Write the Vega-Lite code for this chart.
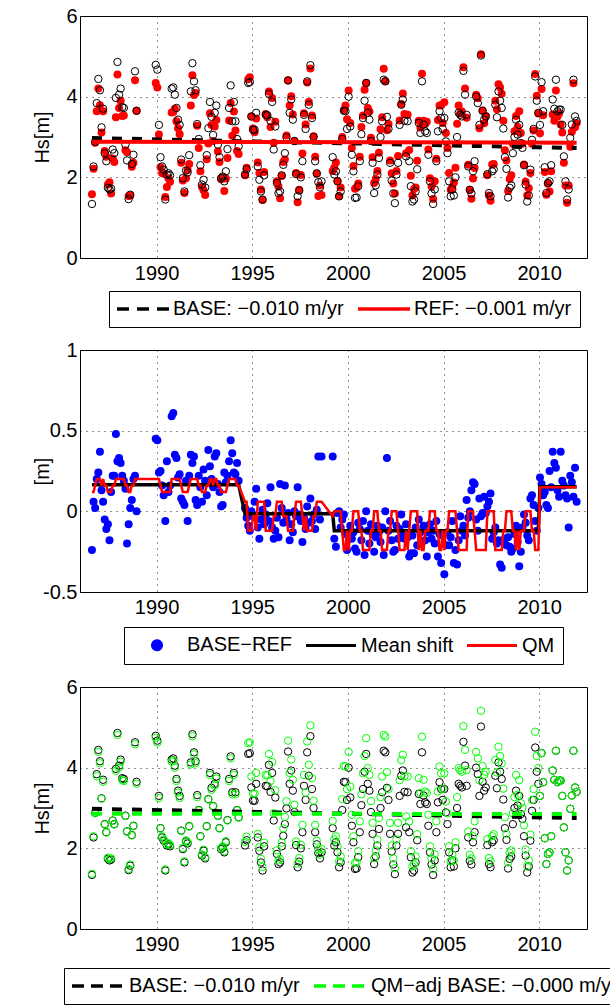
{
"$schema": "https://vega.github.io/schema/vega-lite/v6.json",
"padding": {"left": 31, "top": 5, "right": 0, "bottom": 0},
"background": "white",
"spacing": 11,
"resolve": {"scale": {"color": "independent", "x": "independent", "y": "independent"}, "legend": {"color": "independent"}},
"config": {
  "font": "Liberation Sans",
  "view": {"stroke": "black", "strokeWidth": 1},
  "axis": {"labelFont": "Liberation Sans", "labelFontSize": 20, "labelColor": "black", "titleFont": "Liberation Sans", "titleFontSize": 20, "titleFontWeight": "normal", "titleColor": "black", "ticks": false, "tickSize": 0, "domain": false, "grid": true, "gridColor": "black", "gridDash": [1, 5], "gridWidth": 1, "gridOpacity": 0.85, "labelFlush": false},
  "axisX": {"labelPadding": 5},
  "axisY": {"labelPadding": 3, "minExtent": 24, "maxExtent": 24, "titlePadding": 4},
  "legend": {"orient": "none", "direction": "horizontal", "labelFont": "Liberation Sans", "labelFontSize": 20, "labelColor": "black", "strokeColor": "black", "fillColor": "white", "padding": 8, "symbolSize": 81, "symbolStrokeWidth": 3, "columnPadding": 6, "labelLimit": 400, "cornerRadius": 0, "title": null}
},
"datasets": {
"m": [
{"t":1986.625,"b":1.34,"r":1.58,"d":-0.24,"q":0.12,"a":1.37},
{"t":1986.708,"b":2.27,"r":2.21,"d":0.06,"q":0.12,"a":2.30},
{"t":1986.792,"b":2.88,"r":2.86,"d":0.02,"q":0.16,"a":2.87},
{"t":1986.875,"b":3.84,"r":3.64,"d":0.20,"q":0.20,"a":3.79},
{"t":1986.958,"b":4.44,"r":4.20,"d":0.24,"q":0.20,"a":4.39},
{"t":1987.042,"b":4.16,"r":3.79,"d":0.37,"q":0.20,"a":4.11},
{"t":1987.125,"b":3.24,"r":3.11,"d":0.13,"q":0.16,"a":3.23},
{"t":1987.208,"b":3.70,"r":3.64,"d":0.06,"q":0.20,"a":3.65},
{"t":1987.292,"b":2.60,"r":2.65,"d":-0.05,"q":0.16,"a":2.59},
{"t":1987.375,"b":2.40,"r":2.51,"d":-0.11,"q":0.16,"a":2.39},
{"t":1987.458,"b":1.74,"r":1.82,"d":-0.08,"q":0.12,"a":1.77},
{"t":1987.542,"b":1.70,"r":1.88,"d":-0.18,"q":0.12,"a":1.73},
{"t":1987.625,"b":1.72,"r":1.60,"d":0.12,"q":0.12,"a":1.75},
{"t":1987.708,"b":2.69,"r":2.47,"d":0.22,"q":0.16,"a":2.68},
{"t":1987.792,"b":2.60,"r":2.38,"d":0.22,"q":0.16,"a":2.59},
{"t":1987.875,"b":3.97,"r":3.49,"d":0.48,"q":0.20,"a":3.92},
{"t":1987.958,"b":4.86,"r":4.55,"d":0.31,"q":0.20,"a":4.81},
{"t":1988.042,"b":4.05,"r":3.72,"d":0.33,"q":0.20,"a":4.00},
{"t":1988.125,"b":4.20,"r":3.90,"d":0.30,"q":0.20,"a":4.15},
{"t":1988.208,"b":3.74,"r":3.52,"d":0.22,"q":0.20,"a":3.69},
{"t":1988.292,"b":3.72,"r":3.53,"d":0.19,"q":0.20,"a":3.67},
{"t":1988.375,"b":2.81,"r":2.67,"d":0.14,"q":0.16,"a":2.80},
{"t":1988.458,"b":2.42,"r":2.62,"d":-0.20,"q":0.16,"a":2.41},
{"t":1988.542,"b":1.46,"r":1.54,"d":-0.08,"q":0.12,"a":1.49},
{"t":1988.625,"b":1.57,"r":1.55,"d":0.02,"q":0.12,"a":1.60},
{"t":1988.708,"b":2.33,"r":2.26,"d":0.07,"q":0.16,"a":2.32},
{"t":1988.792,"b":2.56,"r":2.36,"d":0.20,"q":0.16,"a":2.55},
{"t":1988.875,"b":4.63,"r":4.41,"d":0.22,"q":0.20,"a":4.58},
{"t":1988.958,"b":3.65,"r":3.65,"d":0.00,"q":0.20,"a":3.60},
{"t":1989.958,"b":4.79,"r":4.34,"d":0.45,"q":0.20,"a":4.74},
{"t":1990.042,"b":4.67,"r":4.23,"d":0.44,"q":0.20,"a":4.62},
{"t":1990.125,"b":3.30,"r":3.06,"d":0.24,"q":0.20,"a":3.25},
{"t":1990.208,"b":2.50,"r":2.25,"d":0.25,"q":0.16,"a":2.49},
{"t":1990.292,"b":2.27,"r":2.11,"d":0.16,"q":0.12,"a":2.30},
{"t":1990.375,"b":2.19,"r":2.09,"d":0.10,"q":0.12,"a":2.22},
{"t":1990.458,"b":1.45,"r":1.51,"d":-0.06,"q":0.12,"a":1.48},
{"t":1990.542,"b":2.07,"r":1.76,"d":0.31,"q":0.12,"a":2.10},
{"t":1990.625,"b":2.10,"r":1.98,"d":0.12,"q":0.12,"a":2.13},
{"t":1990.708,"b":2.05,"r":1.89,"d":0.16,"q":0.12,"a":2.08},
{"t":1990.792,"b":4.20,"r":3.61,"d":0.59,"q":0.20,"a":4.15},
{"t":1990.875,"b":4.23,"r":3.62,"d":0.61,"q":0.20,"a":4.18},
{"t":1990.958,"b":4.05,"r":3.70,"d":0.35,"q":0.20,"a":4.00},
{"t":1991.042,"b":3.72,"r":3.39,"d":0.33,"q":0.20,"a":3.67},
{"t":1991.125,"b":3.43,"r":3.22,"d":0.21,"q":0.20,"a":3.38},
{"t":1991.208,"b":3.30,"r":3.07,"d":0.23,"q":0.20,"a":3.25},
{"t":1991.292,"b":2.44,"r":2.36,"d":0.08,"q":0.16,"a":2.43},
{"t":1991.375,"b":1.98,"r":1.92,"d":0.06,"q":0.12,"a":2.01},
{"t":1991.458,"b":1.65,"r":1.61,"d":0.04,"q":0.12,"a":1.68},
{"t":1991.542,"b":2.17,"r":1.98,"d":0.19,"q":0.12,"a":2.20},
{"t":1991.625,"b":2.12,"r":2.18,"d":-0.06,"q":0.12,"a":2.15},
{"t":1991.708,"b":2.55,"r":2.33,"d":0.22,"q":0.16,"a":2.54},
{"t":1991.792,"b":4.13,"r":3.78,"d":0.35,"q":0.20,"a":4.08},
{"t":1991.875,"b":4.83,"r":4.53,"d":0.30,"q":0.20,"a":4.78},
{"t":1991.958,"b":4.38,"r":4.04,"d":0.34,"q":0.20,"a":4.33},
{"t":1992.042,"b":4.16,"r":4.09,"d":0.07,"q":0.20,"a":4.11},
{"t":1992.125,"b":3.32,"r":3.28,"d":0.04,"q":0.20,"a":3.27},
{"t":1992.208,"b":2.95,"r":2.73,"d":0.22,"q":0.16,"a":2.94},
{"t":1992.292,"b":2.30,"r":2.15,"d":0.15,"q":0.16,"a":2.29},
{"t":1992.375,"b":1.82,"r":1.76,"d":0.06,"q":0.12,"a":1.85},
{"t":1992.458,"b":1.94,"r":1.68,"d":0.26,"q":0.12,"a":1.97},
{"t":1992.542,"b":1.75,"r":1.56,"d":0.19,"q":0.12,"a":1.78},
{"t":1992.625,"b":2.55,"r":2.45,"d":0.10,"q":0.16,"a":2.54},
{"t":1992.708,"b":3.22,"r":2.84,"d":0.38,"q":0.16,"a":3.21},
{"t":1992.792,"b":3.87,"r":3.59,"d":0.28,"q":0.20,"a":3.82},
{"t":1992.875,"b":3.50,"r":3.30,"d":0.20,"q":0.20,"a":3.45},
{"t":1992.958,"b":3.05,"r":2.90,"d":0.15,"q":0.16,"a":3.04},
{"t":1993.042,"b":3.60,"r":3.26,"d":0.34,"q":0.20,"a":3.55},
{"t":1993.125,"b":3.78,"r":3.42,"d":0.36,"q":0.20,"a":3.73},
{"t":1993.208,"b":2.81,"r":2.64,"d":0.17,"q":0.16,"a":2.80},
{"t":1993.292,"b":2.50,"r":2.38,"d":0.12,"q":0.16,"a":2.49},
{"t":1993.375,"b":1.98,"r":1.95,"d":0.03,"q":0.12,"a":2.01},
{"t":1993.458,"b":2.02,"r":1.98,"d":0.04,"q":0.12,"a":2.05},
{"t":1993.542,"b":1.90,"r":1.66,"d":0.24,"q":0.12,"a":1.93},
{"t":1993.625,"b":2.15,"r":1.97,"d":0.18,"q":0.12,"a":2.18},
{"t":1993.708,"b":2.70,"r":2.48,"d":0.22,"q":0.16,"a":2.69},
{"t":1993.792,"b":3.72,"r":3.41,"d":0.31,"q":0.20,"a":3.67},
{"t":1993.875,"b":4.28,"r":3.84,"d":0.44,"q":0.20,"a":4.23},
{"t":1993.958,"b":3.39,"r":3.03,"d":0.36,"q":0.20,"a":3.34},
{"t":1994.042,"b":3.87,"r":3.63,"d":0.24,"q":0.20,"a":3.82},
{"t":1994.125,"b":3.39,"r":3.16,"d":0.23,"q":0.20,"a":3.34},
{"t":1994.208,"b":2.95,"r":2.65,"d":0.30,"q":0.16,"a":2.94},
{"t":1994.292,"b":2.77,"r":2.58,"d":0.19,"q":0.16,"a":2.76},
{"t":1994.625,"b":2.07,"r":2.05,"d":0.02,"q":0.06,"a":2.16},
{"t":1994.708,"b":2.20,"r":2.24,"d":-0.04,"q":0.06,"a":2.29},
{"t":1994.792,"b":4.34,"r":4.43,"d":-0.09,"q":-0.12,"a":4.61},
{"t":1994.875,"b":4.36,"r":4.48,"d":-0.12,"q":-0.12,"a":4.63},
{"t":1994.958,"b":3.51,"r":3.51,"d":0.00,"q":-0.12,"a":3.78},
{"t":1995.042,"b":3.18,"r":3.21,"d":-0.03,"q":-0.03,"a":3.36},
{"t":1995.125,"b":3.18,"r":3.12,"d":0.06,"q":-0.03,"a":3.36},
{"t":1995.208,"b":3.60,"r":3.46,"d":0.14,"q":-0.12,"a":3.87},
{"t":1995.292,"b":2.27,"r":2.37,"d":-0.10,"q":0.06,"a":2.36},
{"t":1995.375,"b":1.94,"r":2.11,"d":-0.17,"q":0.06,"a":2.03},
{"t":1995.458,"b":1.65,"r":1.70,"d":-0.05,"q":0.06,"a":1.74},
{"t":1995.542,"b":1.45,"r":1.44,"d":0.01,"q":0.06,"a":1.54},
{"t":1995.625,"b":2.05,"r":2.13,"d":-0.08,"q":0.06,"a":2.14},
{"t":1995.708,"b":3.55,"r":3.57,"d":-0.02,"q":-0.12,"a":3.82},
{"t":1995.792,"b":3.54,"r":3.49,"d":0.05,"q":-0.12,"a":3.81},
{"t":1995.875,"b":4.07,"r":4.13,"d":-0.06,"q":-0.12,"a":4.34},
{"t":1995.958,"b":3.40,"r":3.25,"d":0.15,"q":-0.12,"a":3.67},
{"t":1996.042,"b":3.87,"r":3.97,"d":-0.10,"q":-0.12,"a":4.14},
{"t":1996.125,"b":2.69,"r":2.86,"d":-0.17,"q":-0.03,"a":2.87},
{"t":1996.208,"b":3.26,"r":3.38,"d":-0.12,"q":-0.03,"a":3.44},
{"t":1996.292,"b":1.86,"r":1.90,"d":-0.04,"q":0.06,"a":1.95},
{"t":1996.375,"b":1.61,"r":1.77,"d":-0.16,"q":0.06,"a":1.70},
{"t":1996.458,"b":1.65,"r":1.48,"d":0.17,"q":0.06,"a":1.74},
{"t":1996.542,"b":2.05,"r":2.03,"d":0.02,"q":0.06,"a":2.14},
{"t":1996.625,"b":2.31,"r":2.38,"d":-0.07,"q":-0.03,"a":2.49},
{"t":1996.708,"b":2.60,"r":2.44,"d":0.16,"q":-0.03,"a":2.78},
{"t":1996.792,"b":2.99,"r":3.04,"d":-0.05,"q":-0.03,"a":3.17},
{"t":1996.875,"b":4.40,"r":4.41,"d":-0.01,"q":-0.12,"a":4.67},
{"t":1996.958,"b":3.60,"r":3.78,"d":-0.18,"q":-0.12,"a":3.87},
{"t":1997.042,"b":3.93,"r":4.01,"d":-0.08,"q":-0.12,"a":4.20},
{"t":1997.125,"b":3.43,"r":3.56,"d":-0.13,"q":-0.12,"a":3.70},
{"t":1997.208,"b":2.90,"r":2.90,"d":0.00,"q":-0.03,"a":3.08},
{"t":1997.292,"b":2.08,"r":2.11,"d":-0.03,"q":0.06,"a":2.17},
{"t":1997.375,"b":1.53,"r":1.38,"d":0.15,"q":0.06,"a":1.62},
{"t":1997.458,"b":1.67,"r":1.69,"d":-0.02,"q":0.06,"a":1.76},
{"t":1997.542,"b":2.00,"r":2.06,"d":-0.06,"q":0.06,"a":2.09},
{"t":1997.625,"b":2.40,"r":2.59,"d":-0.19,"q":-0.03,"a":2.58},
{"t":1997.708,"b":3.55,"r":3.59,"d":-0.04,"q":-0.12,"a":3.82},
{"t":1997.792,"b":3.20,"r":3.31,"d":-0.11,"q":-0.03,"a":3.38},
{"t":1997.875,"b":4.38,"r":4.35,"d":0.03,"q":-0.12,"a":4.65},
{"t":1997.958,"b":3.80,"r":3.87,"d":-0.07,"q":-0.12,"a":4.07},
{"t":1998.042,"b":4.78,"r":4.70,"d":0.08,"q":-0.12,"a":5.05},
{"t":1998.125,"b":3.47,"r":3.53,"d":-0.06,"q":-0.12,"a":3.74},
{"t":1998.208,"b":3.00,"r":3.02,"d":-0.02,"q":-0.03,"a":3.18},
{"t":1998.292,"b":2.40,"r":2.51,"d":-0.11,"q":-0.03,"a":2.58},
{"t":1998.375,"b":2.10,"r":2.09,"d":0.01,"q":0.06,"a":2.19},
{"t":1998.458,"b":1.88,"r":1.54,"d":0.34,"q":0.06,"a":1.97},
{"t":1998.542,"b":1.75,"r":1.80,"d":-0.05,"q":0.06,"a":1.84},
{"t":1998.625,"b":1.90,"r":1.56,"d":0.34,"q":0.06,"a":1.99},
{"t":1999.208,"b":2.50,"r":2.16,"d":0.34,"q":-0.03,"a":2.68},
{"t":1999.292,"b":2.07,"r":2.24,"d":-0.17,"q":0.00,"a":2.22},
{"t":1999.375,"b":2.15,"r":2.37,"d":-0.22,"q":0.00,"a":2.30},
{"t":1999.458,"b":1.90,"r":1.91,"d":-0.01,"q":0.00,"a":2.05},
{"t":1999.542,"b":1.53,"r":1.53,"d":0.00,"q":0.00,"a":1.68},
{"t":1999.625,"b":1.65,"r":1.75,"d":-0.10,"q":0.00,"a":1.80},
{"t":1999.708,"b":2.95,"r":3.00,"d":-0.05,"q":-0.12,"a":3.22},
{"t":1999.792,"b":3.65,"r":3.67,"d":-0.02,"q":-0.24,"a":4.04},
{"t":1999.875,"b":3.64,"r":3.78,"d":-0.14,"q":-0.24,"a":4.03},
{"t":1999.958,"b":3.20,"r":3.44,"d":-0.24,"q":-0.12,"a":3.47},
{"t":2000.042,"b":4.00,"r":4.15,"d":-0.15,"q":-0.24,"a":4.39},
{"t":2000.125,"b":3.26,"r":3.35,"d":-0.09,"q":-0.12,"a":3.53},
{"t":2000.208,"b":2.56,"r":2.73,"d":-0.17,"q":-0.12,"a":2.83},
{"t":2000.292,"b":2.15,"r":2.28,"d":-0.13,"q":0.00,"a":2.30},
{"t":2000.375,"b":1.49,"r":1.72,"d":-0.23,"q":0.00,"a":1.64},
{"t":2000.458,"b":1.50,"r":1.75,"d":-0.25,"q":0.00,"a":1.65},
{"t":2000.542,"b":1.78,"r":1.85,"d":-0.07,"q":0.00,"a":1.93},
{"t":2000.625,"b":2.40,"r":2.51,"d":-0.11,"q":-0.12,"a":2.67},
{"t":2000.708,"b":3.07,"r":3.25,"d":-0.18,"q":-0.12,"a":3.34},
{"t":2000.792,"b":3.47,"r":3.53,"d":-0.06,"q":-0.24,"a":3.86},
{"t":2000.875,"b":3.90,"r":4.17,"d":-0.27,"q":-0.24,"a":4.29},
{"t":2000.958,"b":4.34,"r":4.34,"d":0.00,"q":-0.24,"a":4.73},
{"t":2001.042,"b":3.60,"r":3.72,"d":-0.12,"q":-0.24,"a":3.99},
{"t":2001.125,"b":3.43,"r":3.63,"d":-0.20,"q":-0.24,"a":3.82},
{"t":2001.208,"b":2.90,"r":2.98,"d":-0.08,"q":-0.12,"a":3.17},
{"t":2001.292,"b":2.36,"r":2.50,"d":-0.14,"q":-0.12,"a":2.63},
{"t":2001.375,"b":1.61,"r":1.86,"d":-0.25,"q":0.00,"a":1.76},
{"t":2001.458,"b":1.80,"r":1.96,"d":-0.16,"q":0.00,"a":1.95},
{"t":2001.542,"b":2.07,"r":2.16,"d":-0.09,"q":0.00,"a":2.22},
{"t":2001.625,"b":2.48,"r":2.61,"d":-0.13,"q":-0.12,"a":2.75},
{"t":2001.708,"b":3.00,"r":3.19,"d":-0.19,"q":-0.12,"a":3.27},
{"t":2001.792,"b":3.39,"r":3.49,"d":-0.10,"q":-0.24,"a":3.78},
{"t":2001.875,"b":4.42,"r":4.69,"d":-0.27,"q":-0.24,"a":4.81},
{"t":2001.958,"b":4.38,"r":4.38,"d":0.00,"q":-0.24,"a":4.77},
{"t":2002.042,"b":3.50,"r":3.17,"d":0.33,"q":-0.24,"a":3.89},
{"t":2002.125,"b":3.20,"r":3.32,"d":-0.12,"q":-0.12,"a":3.47},
{"t":2002.208,"b":2.36,"r":2.42,"d":-0.06,"q":-0.12,"a":2.63},
{"t":2002.292,"b":1.92,"r":2.10,"d":-0.18,"q":0.00,"a":2.07},
{"t":2002.375,"b":1.60,"r":1.85,"d":-0.25,"q":0.00,"a":1.75},
{"t":2002.458,"b":1.36,"r":1.60,"d":-0.24,"q":0.00,"a":1.51},
{"t":2002.542,"b":2.07,"r":2.16,"d":-0.09,"q":0.00,"a":2.22},
{"t":2002.625,"b":2.36,"r":2.53,"d":-0.17,"q":-0.12,"a":2.63},
{"t":2002.708,"b":3.30,"r":3.41,"d":-0.11,"q":-0.24,"a":3.69},
{"t":2002.792,"b":3.80,"r":3.82,"d":-0.02,"q":-0.24,"a":4.19},
{"t":2002.875,"b":3.93,"r":4.08,"d":-0.15,"q":-0.24,"a":4.32},
{"t":2002.958,"b":3.40,"r":3.57,"d":-0.17,"q":-0.24,"a":3.79},
{"t":2003.042,"b":2.52,"r":2.60,"d":-0.08,"q":-0.12,"a":2.79},
{"t":2003.125,"b":3.39,"r":3.55,"d":-0.16,"q":-0.24,"a":3.78},
{"t":2003.208,"b":2.40,"r":2.68,"d":-0.28,"q":-0.12,"a":2.67},
{"t":2003.292,"b":1.78,"r":2.04,"d":-0.26,"q":0.00,"a":1.93},
{"t":2003.375,"b":1.40,"r":1.55,"d":-0.15,"q":0.00,"a":1.55},
{"t":2003.458,"b":1.45,"r":1.71,"d":-0.26,"q":0.00,"a":1.60},
{"t":2003.542,"b":1.65,"r":1.75,"d":-0.10,"q":0.00,"a":1.80},
{"t":2003.625,"b":2.20,"r":2.41,"d":-0.21,"q":0.00,"a":2.35},
{"t":2003.708,"b":3.35,"r":3.40,"d":-0.05,"q":-0.24,"a":3.74},
{"t":2003.792,"b":3.10,"r":3.23,"d":-0.13,"q":-0.12,"a":3.37},
{"t":2003.875,"b":4.38,"r":4.57,"d":-0.19,"q":-0.24,"a":4.77},
{"t":2003.958,"b":3.31,"r":3.40,"d":-0.09,"q":-0.24,"a":3.70},
{"t":2004.042,"b":3.14,"r":3.32,"d":-0.18,"q":-0.12,"a":3.41},
{"t":2004.125,"b":3.10,"r":3.38,"d":-0.28,"q":-0.12,"a":3.37},
{"t":2004.208,"b":2.56,"r":2.69,"d":-0.13,"q":-0.12,"a":2.83},
{"t":2004.292,"b":1.90,"r":1.98,"d":-0.08,"q":0.00,"a":2.05},
{"t":2004.375,"b":1.60,"r":1.77,"d":-0.17,"q":0.00,"a":1.75},
{"t":2004.458,"b":1.34,"r":1.46,"d":-0.12,"q":0.00,"a":1.49},
{"t":2004.542,"b":1.70,"r":1.90,"d":-0.20,"q":0.00,"a":1.85},
{"t":2004.625,"b":2.40,"r":2.46,"d":-0.06,"q":-0.12,"a":2.67},
{"t":2004.708,"b":3.14,"r":3.42,"d":-0.28,"q":-0.12,"a":3.41},
{"t":2004.792,"b":3.64,"r":3.78,"d":-0.14,"q":-0.24,"a":4.03},
{"t":2004.875,"b":3.47,"r":3.79,"d":-0.32,"q":-0.24,"a":3.86},
{"t":2004.958,"b":3.20,"r":3.35,"d":-0.15,"q":-0.12,"a":3.47},
{"t":2005.042,"b":3.47,"r":3.86,"d":-0.39,"q":-0.24,"a":3.86},
{"t":2005.125,"b":2.89,"r":3.10,"d":-0.21,"q":-0.12,"a":3.16},
{"t":2005.208,"b":2.60,"r":2.73,"d":-0.13,"q":-0.12,"a":2.87},
{"t":2005.292,"b":1.90,"r":2.11,"d":-0.21,"q":0.00,"a":2.05},
{"t":2005.375,"b":1.53,"r":1.69,"d":-0.16,"q":0.00,"a":1.68},
{"t":2005.458,"b":1.70,"r":1.76,"d":-0.06,"q":0.00,"a":1.85},
{"t":2005.542,"b":1.55,"r":1.87,"d":-0.32,"q":0.00,"a":1.70},
{"t":2005.625,"b":2.00,"r":2.24,"d":-0.24,"q":0.00,"a":2.15},
{"t":2005.708,"b":3.00,"r":3.33,"d":-0.33,"q":-0.12,"a":3.27},
{"t":2005.792,"b":3.60,"r":3.78,"d":-0.18,"q":-0.24,"a":3.99},
{"t":2005.875,"b":3.55,"r":3.58,"d":-0.03,"q":-0.24,"a":3.94},
{"t":2005.958,"b":3.51,"r":3.63,"d":-0.12,"q":-0.24,"a":3.90},
{"t":2006.042,"b":4.64,"r":4.73,"d":-0.09,"q":-0.24,"a":5.03},
{"t":2006.125,"b":4.05,"r":4.20,"d":-0.15,"q":-0.24,"a":4.44},
{"t":2006.208,"b":3.55,"r":3.48,"d":0.07,"q":-0.24,"a":3.94},
{"t":2006.292,"b":2.27,"r":2.31,"d":-0.04,"q":0.00,"a":2.42},
{"t":2006.375,"b":1.69,"r":1.69,"d":0.00,"q":0.00,"a":1.84},
{"t":2006.458,"b":1.60,"r":1.47,"d":0.13,"q":0.00,"a":1.75},
{"t":2006.542,"b":2.15,"r":1.97,"d":0.18,"q":0.00,"a":2.30},
{"t":2006.625,"b":2.40,"r":2.23,"d":0.17,"q":-0.12,"a":2.67},
{"t":2006.708,"b":4.00,"r":4.05,"d":-0.05,"q":-0.24,"a":4.39},
{"t":2006.792,"b":3.84,"r":3.96,"d":-0.12,"q":-0.24,"a":4.23},
{"t":2006.875,"b":3.30,"r":3.22,"d":0.08,"q":-0.24,"a":3.69},
{"t":2006.958,"b":5.02,"r":5.05,"d":-0.03,"q":-0.24,"a":5.41},
{"t":2007.042,"b":3.65,"r":3.66,"d":-0.01,"q":-0.24,"a":4.04},
{"t":2007.125,"b":3.43,"r":3.34,"d":0.09,"q":-0.24,"a":3.82},
{"t":2007.208,"b":3.51,"r":3.52,"d":-0.01,"q":-0.24,"a":3.90},
{"t":2007.292,"b":2.08,"r":2.05,"d":0.03,"q":0.00,"a":2.23},
{"t":2007.375,"b":1.61,"r":1.55,"d":0.06,"q":0.00,"a":1.76},
{"t":2007.458,"b":1.53,"r":1.42,"d":0.11,"q":0.00,"a":1.68},
{"t":2007.542,"b":2.15,"r":2.32,"d":-0.17,"q":0.00,"a":2.30},
{"t":2007.625,"b":2.20,"r":2.33,"d":-0.13,"q":0.00,"a":2.35},
{"t":2007.708,"b":3.80,"r":3.90,"d":-0.10,"q":-0.24,"a":4.19},
{"t":2007.792,"b":3.49,"r":3.69,"d":-0.20,"q":-0.24,"a":3.88},
{"t":2007.875,"b":4.13,"r":4.31,"d":-0.18,"q":-0.24,"a":4.52},
{"t":2007.958,"b":3.90,"r":4.23,"d":-0.33,"q":-0.24,"a":4.29},
{"t":2008.042,"b":3.72,"r":4.07,"d":-0.35,"q":-0.24,"a":4.11},
{"t":2008.125,"b":3.21,"r":3.40,"d":-0.19,"q":-0.12,"a":3.48},
{"t":2008.208,"b":2.50,"r":2.67,"d":-0.17,"q":-0.12,"a":2.77},
{"t":2008.292,"b":2.21,"r":2.42,"d":-0.21,"q":0.00,"a":2.36},
{"t":2008.375,"b":1.50,"r":1.66,"d":-0.16,"q":0.00,"a":1.65},
{"t":2008.458,"b":1.74,"r":1.96,"d":-0.22,"q":0.00,"a":1.89},
{"t":2008.542,"b":1.80,"r":2.05,"d":-0.25,"q":0.00,"a":1.95},
{"t":2008.625,"b":2.60,"r":2.83,"d":-0.23,"q":-0.12,"a":2.87},
{"t":2008.708,"b":3.00,"r":3.14,"d":-0.14,"q":-0.12,"a":3.27},
{"t":2008.792,"b":3.43,"r":3.52,"d":-0.09,"q":-0.24,"a":3.82},
{"t":2008.875,"b":3.06,"r":3.25,"d":-0.19,"q":-0.12,"a":3.33},
{"t":2008.958,"b":3.30,"r":3.64,"d":-0.34,"q":-0.24,"a":3.69},
{"t":2009.042,"b":2.85,"r":3.10,"d":-0.25,"q":-0.12,"a":3.12},
{"t":2009.125,"b":2.73,"r":2.83,"d":-0.10,"q":-0.12,"a":3.00},
{"t":2009.208,"b":2.30,"r":2.32,"d":-0.02,"q":-0.12,"a":2.57},
{"t":2009.292,"b":1.82,"r":1.89,"d":-0.07,"q":0.00,"a":1.97},
{"t":2009.375,"b":1.40,"r":1.55,"d":-0.15,"q":0.00,"a":1.55},
{"t":2009.458,"b":1.55,"r":1.73,"d":-0.18,"q":0.00,"a":1.70},
{"t":2009.542,"b":2.19,"r":2.11,"d":0.08,"q":0.00,"a":2.34},
{"t":2009.625,"b":2.93,"r":2.83,"d":0.10,"q":-0.12,"a":3.20},
{"t":2009.708,"b":3.20,"r":3.16,"d":0.04,"q":-0.12,"a":3.47},
{"t":2009.792,"b":4.50,"r":4.56,"d":-0.06,"q":-0.24,"a":4.89},
{"t":2009.875,"b":3.90,"r":4.02,"d":-0.12,"q":-0.24,"a":4.29},
{"t":2009.958,"b":3.60,"r":3.58,"d":0.02,"q":-0.24,"a":3.99},
{"t":2010.042,"b":3.30,"r":3.09,"d":0.21,"q":0.15,"a":3.30},
{"t":2010.125,"b":4.36,"r":4.19,"d":0.17,"q":0.15,"a":4.36},
{"t":2010.208,"b":3.64,"r":3.54,"d":0.10,"q":0.15,"a":3.64},
{"t":2010.292,"b":2.25,"r":2.13,"d":0.12,"q":0.15,"a":2.25},
{"t":2010.375,"b":1.61,"r":1.57,"d":0.04,"q":0.15,"a":1.61},
{"t":2010.458,"b":1.86,"r":1.84,"d":0.02,"q":0.15,"a":1.86},
{"t":2010.542,"b":1.90,"r":1.65,"d":0.25,"q":0.15,"a":1.90},
{"t":2010.625,"b":2.30,"r":2.15,"d":0.15,"q":0.15,"a":2.30},
{"t":2010.708,"b":3.93,"r":3.56,"d":0.37,"q":0.15,"a":3.93},
{"t":2010.792,"b":3.70,"r":3.40,"d":0.30,"q":0.15,"a":3.70},
{"t":2010.875,"b":4.42,"r":4.15,"d":0.27,"q":0.15,"a":4.42},
{"t":2010.958,"b":3.64,"r":3.51,"d":0.13,"q":0.15,"a":3.64},
{"t":2011.042,"b":3.68,"r":3.59,"d":0.09,"q":0.15,"a":3.68},
{"t":2011.125,"b":3.68,"r":3.31,"d":0.37,"q":0.15,"a":3.68},
{"t":2011.208,"b":3.30,"r":3.11,"d":0.19,"q":0.15,"a":3.30},
{"t":2011.292,"b":2.52,"r":2.36,"d":0.16,"q":0.15,"a":2.52},
{"t":2011.375,"b":1.90,"r":1.80,"d":0.10,"q":0.15,"a":1.90},
{"t":2011.458,"b":1.45,"r":1.37,"d":0.08,"q":0.15,"a":1.45},
{"t":2011.542,"b":1.70,"r":1.80,"d":-0.10,"q":0.15,"a":1.70},
{"t":2011.625,"b":2.98,"r":2.76,"d":0.22,"q":0.15,"a":2.98},
{"t":2011.708,"b":3.31,"r":3.13,"d":0.18,"q":0.15,"a":3.31},
{"t":2011.792,"b":4.42,"r":4.33,"d":0.09,"q":0.15,"a":4.42},
{"t":2011.875,"b":3.51,"r":3.24,"d":0.27,"q":0.15,"a":3.51},
{"t":2011.958,"b":3.40,"r":3.34,"d":0.06,"q":0.15,"a":3.40}
],
"ms": [
{"t":1986.625,"v":0.165},{"t":1994.292,"v":0.165},{"t":1994.625,"v":-0.015},{"t":1999.208,"v":-0.015},
{"t":1999.292,"v":-0.12},{"t":2009.958,"v":-0.12},{"t":2010.042,"v":0.152},{"t":2011.958,"v":0.152}
]
},
"vconcat": [
{
  "width": 507, "height": 242,
  "layer": [
    {"data": {"name": "m"},
     "mark": {"type": "point", "shape": "circle", "filled": true, "size": 64, "color": "#ff0000", "opacity": 1, "strokeWidth": 0},
     "encoding": {
       "x": {"field": "t", "type": "quantitative", "scale": {"domain": [1986, 2012.5], "nice": false, "zero": false}, "axis": {"values": [1990, 1995, 2000, 2005, 2010], "format": "d", "title": null}},
       "y": {"field": "r", "type": "quantitative", "scale": {"domain": [0, 6], "nice": false}, "axis": {"values": [0, 2, 4, 6], "title": "Hs[m]"}}}},
    {"data": {"name": "m"},
     "mark": {"type": "point", "shape": "circle", "filled": false, "size": 55, "color": "#000000", "opacity": 1, "strokeWidth": 1},
     "encoding": {"x": {"field": "t", "type": "quantitative"}, "y": {"field": "b", "type": "quantitative"}}},
    {"data": {"values": [{"t": 1986.625, "v": 2.975}, {"t": 2011.958, "v": 2.725}]},
     "mark": {"type": "line", "strokeWidth": 4, "strokeDash": [10, 10], "strokeCap": "butt"},
     "encoding": {"x": {"field": "t", "type": "quantitative"}, "y": {"field": "v", "type": "quantitative"},
       "color": {"datum": "BASE: −0.010 m/yr", "type": "nominal",
         "scale": {"domain": ["BASE: −0.010 m/yr", "REF: −0.001 m/yr"], "range": ["#000000", "#ff0000"]},
         "legend": {"legendX": 29, "legendY": 275, "columns": 2, "symbolOffset": 16, "labelOffset": 20,
           "encode": {"symbols": {"update": {"shape": {"value": "M-5.78,0H5.78"}, "size": {"value": 81}, "strokeWidth": {"value": 3.5}, "fill": {"value": "transparent"}, "opacity": {"value": 1}, "strokeDash": {"signal": "datum.value === 'REF: −0.001 m/yr' ? [1,0] : [12,8]"}}}}}}}},
    {"data": {"values": [{"t": 1986.625, "v": 2.88}, {"t": 2011.958, "v": 2.86}]},
     "mark": {"type": "line", "strokeWidth": 4},
     "encoding": {"x": {"field": "t", "type": "quantitative"}, "y": {"field": "v", "type": "quantitative"},
       "color": {"datum": "REF: −0.001 m/yr", "type": "nominal",
         "legend": {"legendX": 29, "legendY": 275, "columns": 2, "symbolOffset": 16, "labelOffset": 20,
           "encode": {"symbols": {"update": {"shape": {"value": "M-5.78,0H5.78"}, "size": {"value": 81}, "strokeWidth": {"value": 3.5}, "fill": {"value": "transparent"}, "opacity": {"value": 1}, "strokeDash": {"signal": "datum.value === 'REF: −0.001 m/yr' ? [1,0] : [12,8]"}}}}}}}}
  ]
},
{
  "width": 507, "height": 242,
  "layer": [
    {"data": {"name": "m"},
     "mark": {"type": "point", "shape": "circle", "filled": true, "size": 64, "opacity": 1, "strokeWidth": 0},
     "encoding": {
       "x": {"field": "t", "type": "quantitative", "scale": {"domain": [1986, 2012.5], "nice": false, "zero": false}, "axis": {"values": [1990, 1995, 2000, 2005, 2010], "format": "d", "title": null}},
       "y": {"field": "d", "type": "quantitative", "scale": {"domain": [-0.5, 1], "nice": false, "zero": false}, "axis": {"values": [-0.5, 0, 0.5, 1], "title": "[m]", "labelExpr": "replace(format(datum.value, '~g'), '−', '-')"}},
       "color": {"datum": "BASE−REF", "type": "nominal",
         "scale": {"domain": ["BASE−REF", "Mean shift", "QM"], "range": ["#0000ff", "#000000", "#ff0000"]},
         "legend": {"legendX": 44, "legendY": 277, "columns": 3, "symbolOffset": 15, "labelOffset": 20,
           "encode": {"symbols": {"update": {
             "shape": {"signal": "datum.value === 'BASE−REF' ? 'circle' : 'M-5.556,0H5.556'"},
             "size": {"value": 81},
             "strokeWidth": {"value": 3},
             "fill": {"signal": "datum.value === 'BASE−REF' ? '#0000ff' : 'transparent'"},
             "stroke": {"signal": "datum.value === 'BASE−REF' ? 'transparent' : (datum.value === 'QM' ? '#ff0000' : '#000000')"},
             "strokeDash": {"value": [1, 0]},
             "opacity": {"value": 1}}}}}}}},
    {"data": {"name": "ms"},
     "mark": {"type": "line", "strokeWidth": 3.5},
     "encoding": {"x": {"field": "t", "type": "quantitative"}, "y": {"field": "v", "type": "quantitative"},
       "color": {"datum": "Mean shift", "type": "nominal",
         "legend": {"legendX": 44, "legendY": 277, "columns": 3, "symbolOffset": 15, "labelOffset": 20,
           "encode": {"symbols": {"update": {
             "shape": {"signal": "datum.value === 'BASE−REF' ? 'circle' : 'M-5.556,0H5.556'"},
             "size": {"value": 81},
             "strokeWidth": {"value": 3},
             "fill": {"signal": "datum.value === 'BASE−REF' ? '#0000ff' : 'transparent'"},
             "stroke": {"signal": "datum.value === 'BASE−REF' ? 'transparent' : (datum.value === 'QM' ? '#ff0000' : '#000000')"},
             "strokeDash": {"value": [1, 0]},
             "opacity": {"value": 1}}}}}}}},
    {"data": {"name": "m"},
     "mark": {"type": "line", "strokeWidth": 2.5},
     "encoding": {"x": {"field": "t", "type": "quantitative"}, "y": {"field": "q", "type": "quantitative"},
       "color": {"datum": "QM", "type": "nominal",
         "legend": {"legendX": 44, "legendY": 277, "columns": 3, "symbolOffset": 15, "labelOffset": 20,
           "encode": {"symbols": {"update": {
             "shape": {"signal": "datum.value === 'BASE−REF' ? 'circle' : 'M-5.556,0H5.556'"},
             "size": {"value": 81},
             "strokeWidth": {"value": 3},
             "fill": {"signal": "datum.value === 'BASE−REF' ? '#0000ff' : 'transparent'"},
             "stroke": {"signal": "datum.value === 'BASE−REF' ? 'transparent' : (datum.value === 'QM' ? '#ff0000' : '#000000')"},
             "strokeDash": {"value": [1, 0]},
             "opacity": {"value": 1}}}}}}}}
  ]
},
{
  "width": 507, "height": 242,
  "layer": [
    {"data": {"name": "m"},
     "mark": {"type": "point", "shape": "circle", "filled": false, "size": 55, "color": "#000000", "opacity": 1, "strokeWidth": 1},
     "encoding": {
       "x": {"field": "t", "type": "quantitative", "scale": {"domain": [1986, 2012.5], "nice": false, "zero": false}, "axis": {"values": [1990, 1995, 2000, 2005, 2010], "format": "d", "title": null}},
       "y": {"field": "b", "type": "quantitative", "scale": {"domain": [0, 6], "nice": false}, "axis": {"values": [0, 2, 4, 6], "title": "Hs[m]"}}}},
    {"data": {"name": "m"},
     "mark": {"type": "point", "shape": "circle", "filled": false, "size": 55, "color": "#00ff00", "opacity": 1, "strokeWidth": 1},
     "encoding": {"x": {"field": "t", "type": "quantitative"}, "y": {"field": "a", "type": "quantitative"}}},
    {"data": {"values": [{"t": 1986.625, "v": 2.98}, {"t": 2011.958, "v": 2.75}]},
     "mark": {"type": "line", "strokeWidth": 4, "strokeDash": [10, 10], "strokeCap": "butt"},
     "encoding": {"x": {"field": "t", "type": "quantitative"}, "y": {"field": "v", "type": "quantitative"},
       "color": {"datum": "BASE: −0.010 m/yr", "type": "nominal",
         "scale": {"domain": ["BASE: −0.010 m/yr", "QM−adj BASE: −0.000 m/yr"], "range": ["#000000", "#00ff00"]},
         "legend": {"legendX": -16, "legendY": 281, "columns": 2, "symbolOffset": 15, "labelOffset": 22,
           "encode": {"symbols": {"update": {"shape": {"value": "M-5.556,0H5.556"}, "size": {"value": 81}, "strokeWidth": {"value": 3.5}, "fill": {"value": "transparent"}, "opacity": {"value": 1}, "strokeDash": {"value": [12, 7]}}}}}}}},
    {"data": {"values": [{"t": 1986.625, "v": 2.86}, {"t": 2011.958, "v": 2.85}]},
     "mark": {"type": "line", "strokeWidth": 4, "strokeDash": [10, 10], "strokeCap": "butt"},
     "encoding": {"x": {"field": "t", "type": "quantitative"}, "y": {"field": "v", "type": "quantitative"},
       "color": {"datum": "QM−adj BASE: −0.000 m/yr", "type": "nominal",
         "legend": {"legendX": -16, "legendY": 281, "columns": 2, "symbolOffset": 15, "labelOffset": 22,
           "encode": {"symbols": {"update": {"shape": {"value": "M-5.556,0H5.556"}, "size": {"value": 81}, "strokeWidth": {"value": 3.5}, "fill": {"value": "transparent"}, "opacity": {"value": 1}, "strokeDash": {"value": [12, 7]}}}}}}}}
  ]
}
]
}
